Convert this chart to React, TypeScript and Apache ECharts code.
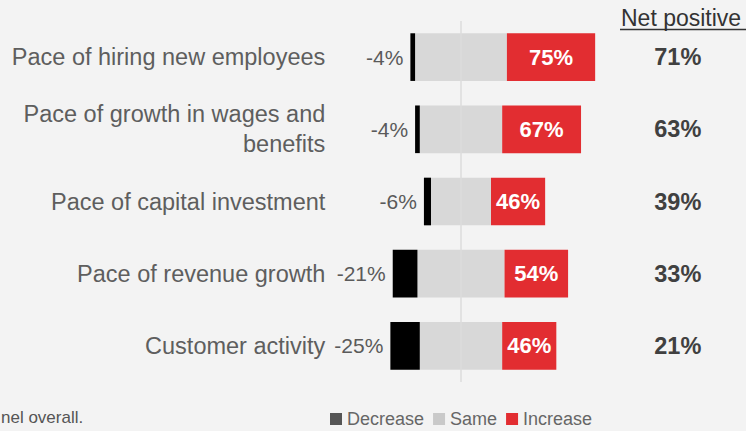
import React, { useEffect, useRef } from "react";
import * as echarts from "echarts";

const categories = [
  "Pace of hiring new employees",
  "Pace of growth in wages and\nbenefits",
  "Pace of capital investment",
  "Pace of revenue growth",
  "Customer activity",
];
const decrease = [4, 4, 6, 21, 25];
const same = [78, 70, 51, 74, 70];
const increase = [75, 67, 46, 54, 46];
const netPositive = [71, 63, 39, 33, 21];

const FONT = '"Liberation Sans", Arial, sans-serif';

export default function App() {
  const ref = useRef<HTMLDivElement>(null);
  useEffect(() => {
    if (!ref.current) return;
    const chart = echarts.init(ref.current, undefined, { renderer: "svg" });
    chart.setOption({
      animation: false,
      backgroundColor: "#f3f3f3",
      textStyle: { fontFamily: FONT },
      grid: { left: 343.3, right: 96.7, top: 21, bottom: 49 },
      xAxis: { type: "value", min: -100, max: 160, show: false },
      yAxis: [
        {
          type: "category",
          data: categories,
          inverse: true,
          axisLine: { show: false },
          axisTick: { show: false },
          axisLabel: {
            fontSize: 23.5,
            color: "#5e5e5e",
            margin: 18,
            lineHeight: 30,
            fontFamily: FONT,
          },
        },
        {
          type: "category",
          data: netPositive.map((v) => v + "%"),
          inverse: true,
          position: "right",
          axisLine: { show: false },
          axisTick: { show: false },
          axisLabel: {
            fontSize: 23.5,
            fontWeight: "bold",
            color: "#404040",
            margin: 5,
            align: "left",
            fontFamily: FONT,
          },
        },
      ],
      legend: {
        left: 330,
        top: 410,
        padding: 0,
        icon: "rect",
        itemWidth: 12,
        itemHeight: 12,
        itemGap: 9,
        textStyle: { fontSize: 18, color: "#666", fontFamily: FONT },
        data: [
          { name: "Decrease", itemStyle: { color: "#555" } },
          { name: "Same", itemStyle: { color: "#c9c9c9" } },
          { name: "Increase", itemStyle: { color: "#e22d31" } },
        ],
      },
      graphic: [
        {
          type: "text",
          left: 621,
          top: 6,
          style: { text: "Net positive", fontSize: 23, fill: "#333", fontFamily: FONT },
        },
        {
          type: "line",
          shape: { x1: 620, y1: 29.5, x2: 746, y2: 29.5 },
          style: { stroke: "#333", lineWidth: 1.5 },
        },
        {
          type: "text",
          left: 1,
          top: 409,
          style: { text: "nel overall.", fontSize: 17, fill: "#555", fontFamily: FONT },
        },
      ],
      series: [
        {
          name: "Same",
          type: "bar",
          stack: "total",
          barWidth: "66%",
          itemStyle: { color: "#d8d8d8" },
          data: same.map((v) => -v / 2),
          markLine: {
            silent: true,
            symbol: ["none", "none"],
            label: { show: false },
            lineStyle: { color: "#dcdcdc", width: 1.5, type: "solid" },
            data: [{ xAxis: 0 }],
          },
        },
        {
          name: "Decrease",
          type: "bar",
          stack: "total",
          itemStyle: { color: "#000" },
          label: {
            show: true,
            position: "left",
            distance: 7,
            formatter: (p: any) => `${p.value}%`,
            fontSize: 21,
            color: "#5a5a5a",
            fontFamily: FONT,
          },
          data: decrease.map((v) => -v),
        },
        {
          name: "Same",
          type: "bar",
          stack: "total",
          itemStyle: { color: "#d8d8d8" },
          data: same.map((v) => v / 2),
        },
        {
          name: "Increase",
          type: "bar",
          stack: "total",
          itemStyle: { color: "#e22d31" },
          label: {
            show: true,
            position: "inside",
            formatter: (p: any) => `${p.value}%`,
            fontSize: 22,
            fontWeight: "bold",
            color: "#fff",
            fontFamily: FONT,
          },
          data: increase,
        },
      ],
    });
    return () => chart.dispose();
  }, []);
  return (
    <div
      ref={ref}
      style={{ position: "fixed", left: 0, top: 0, width: 746, height: 431 }}
    />
  );
}
